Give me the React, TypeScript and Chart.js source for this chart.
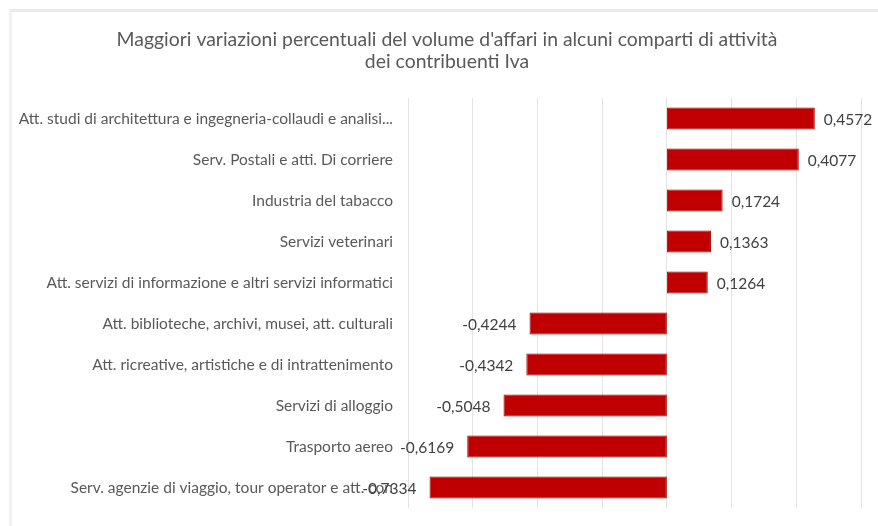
import React, { useEffect, useRef } from "react";
import { Chart, registerables } from "chart.js";

Chart.register(...registerables);

const titleLines = [
  "Maggiori variazioni percentuali del volume d'affari in alcuni comparti di attività",
  "dei contribuenti Iva",
];

const categories = [
  "Att. studi di architettura e ingegneria-collaudi e analisi...",
  "Serv. Postali e atti. Di corriere",
  "Industria del tabacco",
  "Servizi veterinari",
  "Att. servizi di informazione e altri servizi informatici",
  "Att. biblioteche, archivi, musei, att. culturali",
  "Att. ricreative, artistiche e di intrattenimento",
  "Servizi di alloggio",
  "Trasporto aereo",
  "Serv. agenzie di viaggio, tour operator e att. con",
];

const values = [0.4572, 0.4077, 0.1724, 0.1363, 0.1264, -0.4244, -0.4342, -0.5048, -0.6169, -0.7334];

const xMin = -0.8;
const xMax = 0.6;
const xStep = 0.2;

const fmt = (v: number) => v.toFixed(4).replace(".", ",");

const titlePlugin = {
  id: "customTitle",
  afterDraw(chart: any) {
    const ctx = chart.ctx;
    ctx.save();
    ctx.font = "19.4px Lato";
    ctx.fillStyle = "#595959";
    ctx.textAlign = "center";
    ctx.textBaseline = "middle";
    titleLines.forEach((line, i) => {
      ctx.fillText(line, 447, 40 + i * 22);
    });
    ctx.restore();
  },
};

const dataLabelPlugin = {
  id: "dataLabels",
  afterDatasetsDraw(chart: any) {
    const ctx = chart.ctx;
    const meta = chart.getDatasetMeta(0);
    ctx.save();
    ctx.font = "15.5px Lato";
    ctx.fillStyle = "#404040";
    ctx.textBaseline = "middle";
    meta.data.forEach((bar: any, i: number) => {
      const v = values[i];
      if (v >= 0) {
        ctx.textAlign = "left";
        ctx.fillText(fmt(v), bar.x + 9, bar.y + 1);
      } else {
        ctx.textAlign = "right";
        ctx.fillText(fmt(v), bar.x - 13, bar.y + 1);
      }
    });
    ctx.restore();
  },
};

export default function App() {
  const ref = useRef<HTMLCanvasElement | null>(null);

  useEffect(() => {
    document.body.style.margin = "0";
    if (!ref.current) return;
    const chart = new Chart(ref.current, {
      type: "bar",
      data: {
        labels: categories,
        datasets: [
          {
            data: values,
            backgroundColor: "#c00000",
            borderColor: "#a30000",
            borderWidth: 1,
            borderSkipped: false,
            barPercentage: 0.54,
            categoryPercentage: 1,
          },
        ],
      },
      options: {
        indexAxis: "y",
        animation: false,
        responsive: false,
        maintainAspectRatio: false,
        layout: { padding: { left: 12, right: 17, top: 98, bottom: 18 } },
        plugins: {
          legend: { display: false },
          tooltip: { enabled: false },
          title: { display: false },
        },
        scales: {
          x: {
            min: xMin,
            max: xMax,
            ticks: { display: false, stepSize: xStep },
            grid: { color: "#e3e3e3", lineWidth: 1, drawTicks: false },
            border: { display: false },
            afterFit: (axis: any) => {
              axis.height = 0;
            },
          },
          y: {
            ticks: {
              color: "#595959",
              font: { family: "Lato", size: 15.5 },
              padding: 7,
              autoSkip: false,
            },
            grid: { display: false },
            border: { display: false },
            afterFit: (axis: any) => {
              axis.width = 396;
            },
          },
        },
      },
      plugins: [dataLabelPlugin, titlePlugin],
    });
    return () => chart.destroy();
  }, []);

  return (
    <div style={{ position: "relative", width: 878, height: 526, background: "#fff" }}>
      <div
        style={{
          position: "absolute",
          left: 9,
          top: 9,
          right: 0,
          bottom: 0,
          borderTop: "3px solid #ebebeb",
          borderLeft: "3px solid #f2f2f2",
        }}
      />
      <canvas ref={ref} width={878} height={526} style={{ position: "absolute", left: 0, top: 0 }} />
    </div>
  );
}
